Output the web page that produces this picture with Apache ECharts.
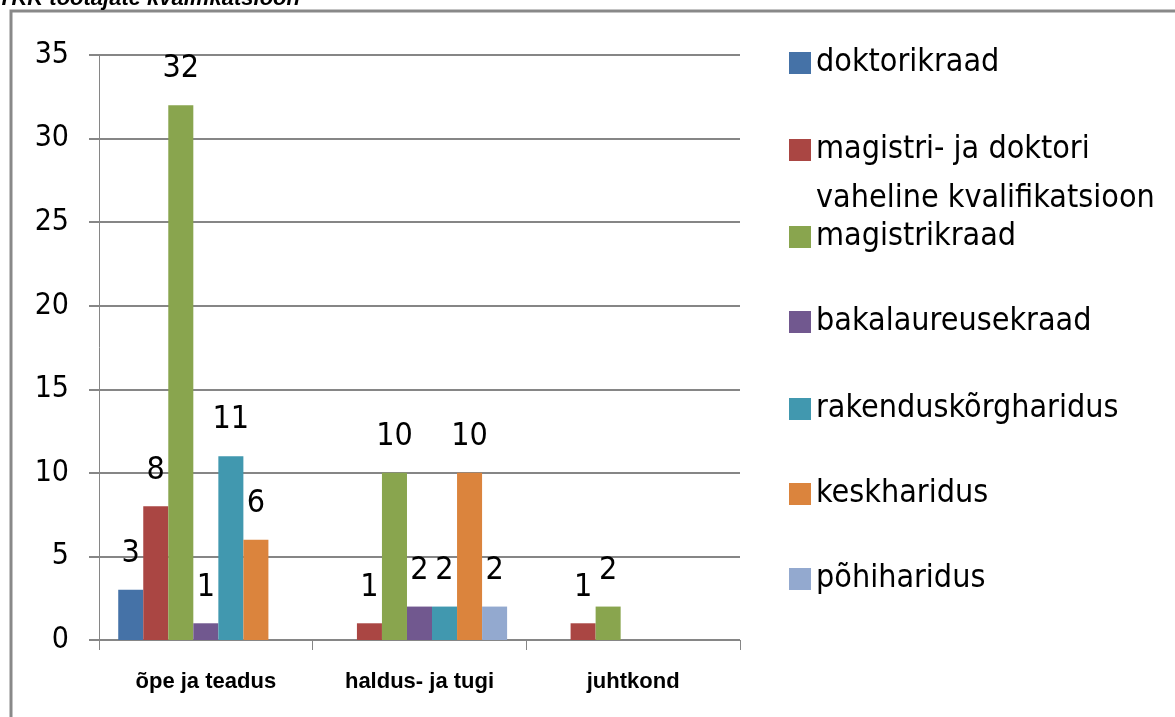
<!DOCTYPE html>
<html>
<head>
<meta charset="utf-8">
<script src="https://cdn.jsdelivr.net/npm/echarts@6/dist/echarts.min.js"></script>
<style>
  html, body { margin: 0; padding: 0; background: #fff; }
  #chartArea { width: 1175px; height: 717px; }
</style>
</head>
<body>
<div id="chartArea"></div>
<script>
// andmed
const categories = ['õpe ja teadus', 'haldus- ja tugi', 'juhtkond'];
const seriesNames = [
  'doktorikraad',
  'magistri- ja doktori vaheline kvalifikatsioon',
  'magistrikraad',
  'bakalaureusekraad',
  'rakenduskõrgharidus',
  'keskharidus',
  'põhiharidus'
];
const doktorikraad = [3, 0, 0];
const vaheline = [8, 1, 1];
const magistrikraad = [32, 10, 2];
const bakalaureusekraad = [1, 2, 0];
const rakenduskorg = [11, 2, 0];
const keskharidus = [6, 10, 0];
const pohiharidus = [0, 2, 0];
const yMin = 0, yMax = 35, yStep = 5;

const seriesData = [doktorikraad, vaheline, magistrikraad, bakalaureusekraad, rakenduskorg, keskharidus, pohiharidus];
const colors = ['#4572A7', '#AA4643', '#89A54E', '#71588F', '#4198AF', '#DB843D', '#93A9CF'];

const narrow = 'DejaVu Sans Condensed';
const chartDom = document.getElementById('chartArea');
let myChart = echarts.init(chartDom);
let option;

// legend - iga kirje eraldi, et vahed oleks nagu originaalis
let legendTops = [63, 150, 237, 322, 409, 494, 579];
let legends = seriesNames.map(function (name, i) {
  return {
    data: [name],
    left: 789,
    top: legendTops[i] - 17,
    padding: 0,
    icon: 'rect',
    itemWidth: 22,
    itemHeight: 22,
    selectedMode: false,
    formatter: function (n) {
      return n.indexOf('vaheline') > 0 ? 'magistri- ja doktori' : n;
    },
    textStyle: { fontFamily: narrow, fontSize: 32, color: '#000', lineHeight: 34 }
  };
});

option = {
  backgroundColor: '#fff',
  color: colors,
  animation: false,
  legend: legends,
  grid: { left: 99, right: 435, top: 55, bottom: 77, containLabel: false },
  xAxis: {
    type: 'category',
    data: categories,
    axisLine: { show: false },
    axisTick: { show: true, length: 10, interval: 0, lineStyle: { color: '#868686', width: 1 } },
    axisLabel: { margin: 31, color: '#000', fontFamily: 'Liberation Sans', fontWeight: 'bold', fontSize: 22 }
  },
  yAxis: {
    type: 'value',
    min: yMin,
    max: yMax,
    interval: yStep,
    axisLine: { show: true, lineStyle: { color: '#868686', width: 1 } },
    axisTick: { show: true, length: 10, lineStyle: { color: '#868686', width: 2 } },
    axisLabel: { margin: 30, color: '#000', fontFamily: narrow, fontSize: 30 },
    splitLine: { show: true, lineStyle: { color: '#868686', width: 2 } }
  },
  graphic: [
    {
      type: 'rect',
      shape: { x: 11, y: 11, width: 1300, height: 900 },
      style: { fill: 'none', stroke: '#898989', lineWidth: 3 },
      silent: true
    },
    {
      type: 'text',
      x: -2,
      y: 10,
      style: {
        text: 'TKK töötajate kvalifikatsioon',
        font: 'italic bold 22px Liberation Sans',
        fill: '#000',
        verticalAlign: 'bottom'
      }
    },
    {
      type: 'text',
      x: 816,
      y: 199,
      style: {
        text: 'vaheline kvalifikatsioon',
        font: '32px ' + narrow,
        fill: '#000',
        verticalAlign: 'middle'
      }
    }
  ],
  series: seriesNames.map(function (name, i) {
    return {
      name: name,
      type: 'bar',
      data: seriesData[i],
      barGap: 0,
      barCategoryGap: '18%',
      label: {
        show: true,
        position: 'top',
        distance: 20,
        color: '#000',
        fontFamily: narrow,
        fontSize: 32,
        formatter: function (p) { return p.value > 0 ? p.value : ''; }
      }
    };
  })
};

option && myChart.setOption(option);
</script>
</body>
</html>
